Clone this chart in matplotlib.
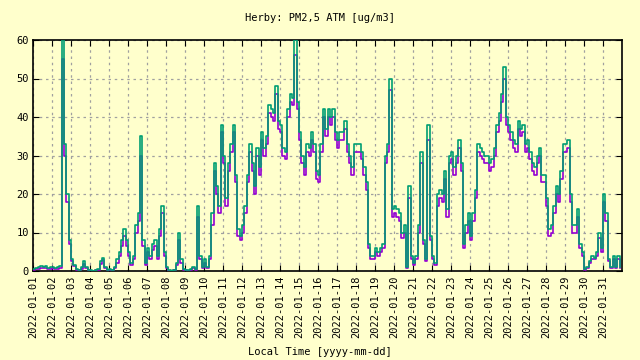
import matplotlib
matplotlib.use("Agg")
import matplotlib.pyplot as plt
import matplotlib.dates as mdates
import pandas as pd
import numpy as np

title = "Herby: PM2,5 ATM [ug/m3]"
xlabel = "Local Time [yyyy-mm-dd]"
start = "2022-01-01"
step = "3h"

# teal series (3-hourly values, one row per day)
teal = [
    0.5, 0.8, 1.0, 1.2, 1.0, 1.3, 0.8, 1.0,
    1.0, 0.8, 1.0, 1.2, 62, 33, 20, 8,
    3, 1.5, 0.5, 0.3, 1.0, 2.5, 1.0, 0.3,
    0.2, 0.1, 0.3, 0.5, 2.5, 3.5, 1.0, 0.3,
    0.5, 0.3, 1.0, 3, 5, 8, 11, 8,
    5, 2, 4, 12, 15, 35, 8, 2,
    6, 4, 7, 8, 4, 11, 17, 5,
    1, 0.2, 0.1, 0.3, 2, 10, 3, 0.5,
    0.3, 0.2, 0.5, 1.0, 0.5, 17, 4, 1,
    3, 1, 4, 15, 28, 22, 17, 38,
    30, 19, 28, 33, 38, 25, 11, 9,
    12, 17, 25, 33, 28, 22, 32, 27,
    36, 32, 35, 43, 42, 41, 48, 39,
    38, 32, 31, 42, 46, 45, 60, 44,
    36, 30, 27, 33, 32, 36, 33, 26,
    25, 33, 42, 37, 42, 40, 42, 36,
    34, 36, 36, 39, 33, 30, 27, 33,
    33, 33, 31, 27, 23, 7, 4, 4,
    6, 5, 6, 7, 30, 33, 50, 16,
    17, 16, 15, 10, 12, 1, 22, 4,
    2, 4, 12, 31, 8, 3, 38, 9,
    4, 2, 20, 21, 20, 26, 16, 30,
    31, 27, 30, 34, 28, 7, 12, 15,
    9, 15, 21, 33, 32, 31, 30, 30,
    28, 29, 32, 38, 41, 46, 53, 40,
    38, 36, 34, 33, 39, 37, 38, 33,
    34, 31, 28, 27, 30, 32, 25, 25,
    19, 11, 12, 17, 22, 20, 26, 33,
    33, 34, 20, 12, 12, 16, 7, 5,
    0.5, 1, 2.5, 4, 3.5, 5, 10, 6,
    20, 15, 3, 1, 4, 1, 4, 1,
]

# purple series (3-hourly values, one row per day)
purple = [
    0.3, 0.5, 0.6, 0.8, 0.7, 0.9, 0.5, 0.6,
    0.7, 0.5, 0.6, 0.8, 55, 30, 18, 7,
    2.5, 1.2, 0.3, 0.2, 0.6, 1.8, 0.7, 0.2,
    0.1, 0.1, 0.2, 0.3, 1.8, 2.8, 0.7, 0.2,
    0.3, 0.2, 0.7, 2.2, 4, 6.5, 9, 6.5,
    4, 1.5, 3, 10, 13, 30, 6.5, 1.5,
    5, 3, 5.5, 6.5, 3, 9, 15, 4,
    0.7, 0.1, 0.1, 0.2, 1.5, 8, 2, 0.3,
    0.2, 0.1, 0.3, 0.7, 0.3, 14, 3, 0.7,
    2, 0.7, 3, 12, 26, 20, 15, 36,
    28, 17, 26, 31, 36, 23, 9, 8,
    10, 15, 23, 31, 26, 20, 30, 25,
    34, 30, 33, 41, 40, 39, 46, 37,
    36, 30, 29, 40, 44, 43, 56, 42,
    34, 28, 25, 31, 30, 34, 31, 24,
    23, 31, 40, 35, 40, 38, 40, 34,
    32, 34, 34, 37, 31, 28, 25, 31,
    31, 31, 29, 25, 21, 6, 3, 3,
    5, 4, 5, 6, 28, 31, 47, 14,
    15, 14, 13, 8.5, 10, 0.7, 19, 3,
    1.5, 3, 10, 28, 7, 2.5, 34, 8,
    3, 1.5, 17, 19, 18, 24, 14, 28,
    29, 25, 28, 32, 26, 6, 10, 13,
    8, 13, 19, 31, 30, 29, 28, 28,
    26, 27, 30, 36, 39, 44, 50, 38,
    36, 34, 32, 31, 37, 35, 36, 31,
    32, 29, 26, 25, 28, 30, 23, 23,
    17, 9, 10, 15, 20, 18, 24, 31,
    31, 32, 18, 10, 10, 14, 6, 4,
    0.3, 0.7, 2, 3, 3, 4, 8.5, 5,
    18, 13, 2.5, 0.7, 3, 0.7, 3, 0.7,
]

yticks = [0, 10, 20, 30, 40, 50, 60]
xtick_labels = [f"2022-01-{d:02d}" for d in range(1, 32)]

times = pd.date_range(start, periods=len(teal), freq=step)

bg = "#ffffcc"
fig = plt.figure(figsize=(6.4, 3.6), dpi=100, facecolor=bg)
ax = fig.add_axes([33/640, 89/360, 589/640, 231/360])
ax.set_facecolor(bg)

ax.plot(times, purple, color="#9400d3", lw=1.2, drawstyle="steps-post", zorder=3)
ax.plot(times, teal, color="#009e73", lw=1.2, drawstyle="steps-post", zorder=4)

ax.set_xlim(pd.Timestamp("2022-01-01"), pd.Timestamp("2022-02-01"))
ax.set_ylim(0, 60)
ax.set_yticks(yticks)
ax.set_xticks(pd.to_datetime(xtick_labels))
ax.set_xticklabels(xtick_labels)

font = "DejaVu Sans Mono"
for lab in ax.get_xticklabels():
    lab.set_rotation(90)
    lab.set_fontsize(7.5)
    lab.set_family(font)
for lab in ax.get_yticklabels():
    lab.set_fontsize(7.5)
    lab.set_family(font)

ax.tick_params(direction="in", length=4, width=0.8, top=True, right=True, pad=3)
ax.grid(True, color="#a0a0a0", linestyle=(0, (2, 3)), lw=0.9)
ax.set_axisbelow(True)
for s in ax.spines.values():
    s.set_linewidth(1.2)
    s.set_color("black")

fig.text(0.5, 1 - 18/360, title, ha="center", va="center", fontsize=7.5, family=font)
fig.text(0.5, 1 - 352/360, xlabel, ha="center", va="center", fontsize=7.5, family=font)

fig.savefig("out.png", dpi=100, facecolor=bg)
